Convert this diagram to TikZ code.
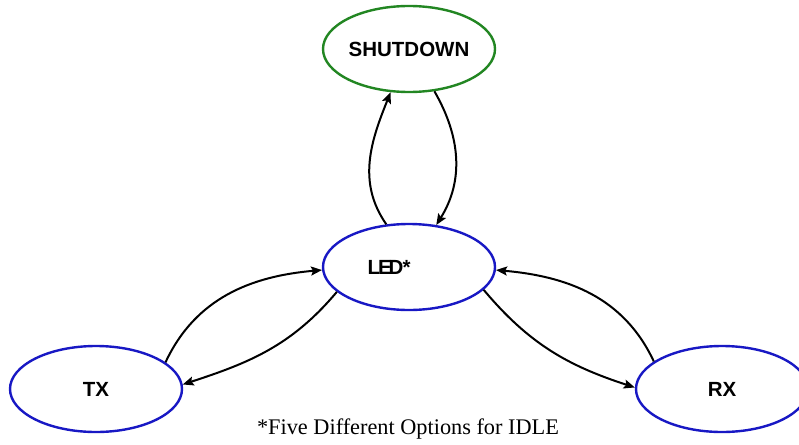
\documentclass[tikz,border=0pt]{standalone}
\usepackage{fontspec}
\setmainfont{Liberation Serif}
\setsansfont{Liberation Sans}
\usepackage{xcolor}
\definecolor{colorShutdown}{RGB}{34,134,34}
\definecolor{colorState}{RGB}{24,24,196}
\usepackage{tikz}
\usetikzlibrary{arrows.meta, shapes.geometric, positioning}
\tikzset{state/.style={ellipse, draw, line width=2.4pt, minimum width=172pt, minimum height=86pt, inner sep=0pt, font=\sffamily\bfseries\fontsize{20.5}{24}\selectfont}}

\begin{document}
\begin{tikzpicture}[>={Stealth[length=11pt,width=9pt,inset=2pt]}, line width=2pt, on grid, node distance=218pt]
\useasboundingbox (0,0) rectangle (799pt,-444pt);
\clip (0,0) rectangle (799pt,-444pt);
\node[state, draw=colorShutdown] (shut) at (409pt,-49pt) {SHUTDOWN};
\node[state, draw=colorState, below=of shut] (led) {L\kern-2pt E\kern-3pt D\kern-1pt*\hspace*{40pt}};
\node[state, draw=colorState, below left=122pt and 313pt of led] (tx) {TX};
\node[state, draw=colorState, below right=122pt and 313pt of led] (rx) {RX};
\node (note) at (408pt,-429pt) {\fontsize{22.3}{26}\selectfont *Five Different Options for IDLE};
\draw [->] (led.118) to [out=125, in=-112] (shut.247);
\draw [->] (shut.301) to [out=-60, in=58] (led.57);
\draw [->] (tx.21) to [out=65, in=185] (led.182);
\draw [->] (led.199) to [out=230, in=18] (tx.3);
\draw [->] (led.343) to [out=-50, in=162] (rx.179);
\draw [->] (rx.158) to [out=115, in=-5] (led.358);
\end{tikzpicture}
\end{document}
